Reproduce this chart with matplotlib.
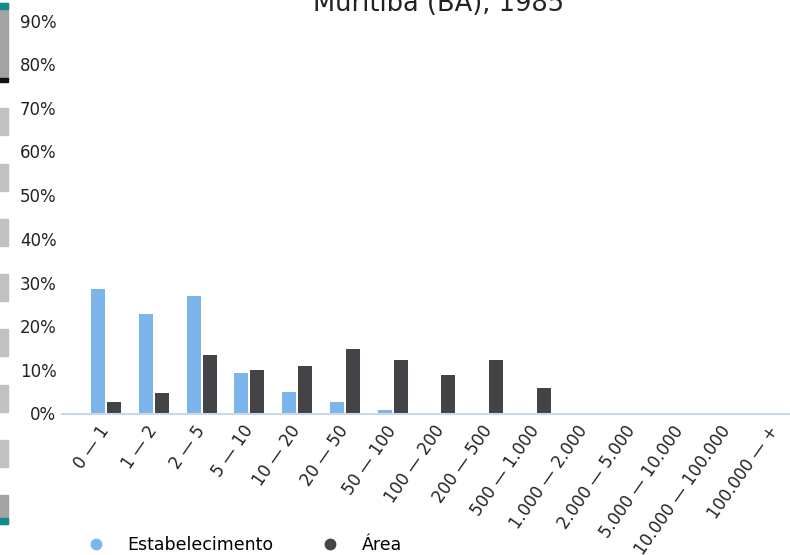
import matplotlib
matplotlib.use("Agg")
import matplotlib.pyplot as plt
from matplotlib.patches import Rectangle
from matplotlib.lines import Line2D
from matplotlib.ticker import FuncFormatter
import numpy as np

plt.rcParams['font.family'] = ['DejaVu Sans']

categories = ["0 — 1", "1 — 2", "2 — 5", "5 — 10", "10 — 20", "20 — 50", "50 — 100",
              "100 — 200", "200 — 500", "500 — 1.000", "1.000 — 2.000", "2.000 — 5.000",
              "5.000 — 10.000", "10.000 — 100.000", "100.000 — +"]
estabelecimento = [28.5, 22.7, 27.0, 9.3, 4.9, 2.7, 0.7, 0.1, 0.0, 0.0, 0.0, 0.0, 0.0, 0.0, 0.0]
area = [2.6, 4.8, 13.3, 10.0, 10.8, 14.8, 12.2, 8.8, 12.3, 5.8, 0.0, 0.0, 0.0, 0.0, 0.0]
series_names = ["Estabelecimento", "Área"]
colors = ["#7cb5ec", "#434348"]
title = "Muritiba (BA), 1985"

W, H = 790, 555
fig = plt.figure(figsize=(W / 100, H / 100), dpi=100)
ax = fig.add_axes([62 / W, 1 - 413.5 / H, (W - 62) / W, (413.5 - 20.5) / H])

x = np.arange(len(categories))
bw = 14 / 47.78
off = 8 / 47.78
ax.bar(x - off, estabelecimento, width=bw, color=colors[0], linewidth=0)
ax.bar(x + off, area, width=bw, color=colors[1], linewidth=0)

ax.set_xlim(-0.921, 14.316)
ax.set_ylim(0, 90)
ax.set_yticks(np.arange(0, 91, 10))
ax.yaxis.set_major_formatter(FuncFormatter(lambda v, p: f"{int(v)}%"))
ax.tick_params(axis='y', length=0, pad=4, labelsize=12, labelcolor="#222222")
ax.set_xticks(x)
ax.set_xticklabels(categories, rotation=55, ha='right', va='center',
                   rotation_mode='anchor', fontsize=12, color="#222222")
ax.tick_params(axis='x', length=0, pad=10)

for s in ['top', 'right', 'left']:
    ax.spines[s].set_visible(False)
ax.spines['bottom'].set_color("#ccd6eb")
ax.spines['bottom'].set_linewidth(1.5)

fig.text(439 / W, 1 - 11 / H, title, ha='center', va='baseline', fontsize=18.5, color="#222222")

handles = [Line2D([], [], marker='o', linestyle='none', markersize=7.5, color=c) for c in colors]
fig.legend(handles, series_names, loc='center left', bbox_to_anchor=(87.7 / W, 1 - 545 / H),
           frameon=False, ncol=2, fontsize=12.5, handlelength=1.0, handletextpad=1.3,
           columnspacing=2.75, borderpad=0, borderaxespad=0)

# left-edge strip decoration
def rect(y0, y1, color):
    fig.patches.append(Rectangle((0, 1 - y1 / H), 8 / W, (y1 - y0) / H, transform=fig.transFigure,
                                 color=color, zorder=0))

rect(3, 80, "#a3a3a3")
rect(3, 9, "#148a8a")
rect(78, 82, "#111111")
for y0 in [108, 164, 219, 274, 329, 385, 440]:
    rect(y0, y0 + 27, "#c1c1c1")
rect(495, 524, "#a3a3a3")
rect(518, 524, "#148a8a")

fig.savefig("out.png", dpi=100)
